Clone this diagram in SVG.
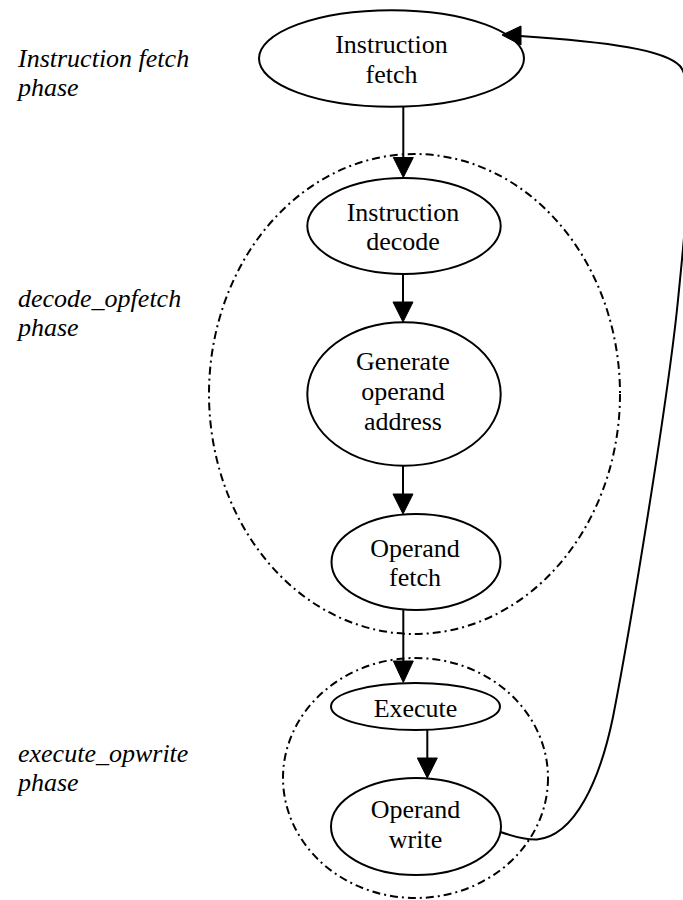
<svg xmlns="http://www.w3.org/2000/svg" width="683" height="900" viewBox="0 0 683 900">
  <style>
    .bg { fill: #ffffff; }
    .cluster { fill: none; stroke: #000; stroke-width: 2; stroke-dasharray: 8 4 2 4; }
    .node ellipse { fill: #ffffff; stroke: #000; stroke-width: 2; }
    .node text { font-family: "Liberation Serif", "Times New Roman", serif; font-size: 26px; text-anchor: middle; fill: #000; }
    .phase { font-family: "Liberation Serif", "Times New Roman", serif; font-size: 26px; font-style: italic; fill: #000; }
    .edge { fill: none; stroke: #000; stroke-width: 2; }
    .head { fill: #000; stroke: #000; stroke-width: 1; }
  </style>
  <rect class="bg" x="0" y="0" width="683" height="900"/>

  <!-- phase captions -->
  <g id="labels">
    <text class="phase" x="18" y="67">Instruction fetch</text>
    <text class="phase" x="18" y="96">phase</text>
    <text class="phase" x="18" y="307">decode_opfetch</text>
    <text class="phase" x="18" y="336">phase</text>
    <text class="phase" x="18" y="762">execute_opwrite</text>
    <text class="phase" x="18" y="791">phase</text>
  </g>

  <!-- phase clusters -->
  <g id="cluster_decode_opfetch">
    <ellipse class="cluster" cx="414.5" cy="394" rx="205.5" ry="240"/>
  </g>
  <g id="cluster_execute_opwrite">
    <ellipse class="cluster" cx="415.5" cy="778" rx="132.5" ry="120"/>
  </g>

  <!-- nodes -->
  <g id="fetch" class="node">
    <ellipse cx="391.5" cy="58.5" rx="132.5" ry="48.3"/>
    <text x="391.5" y="53">Instruction</text>
    <text x="391.5" y="83">fetch</text>
  </g>
  <g id="decode" class="node">
    <ellipse cx="404" cy="226" rx="96.7" ry="48"/>
    <text x="403" y="221">Instruction</text>
    <text x="403" y="250">decode</text>
  </g>
  <g id="genaddr" class="node">
    <ellipse cx="404" cy="394" rx="96.7" ry="71.7"/>
    <text x="403" y="370">Generate</text>
    <text x="403" y="400">operand</text>
    <text x="403" y="430">address</text>
  </g>
  <g id="opfetch" class="node">
    <ellipse cx="416" cy="562" rx="84.5" ry="48"/>
    <text x="415" y="557">Operand</text>
    <text x="415" y="586">fetch</text>
  </g>
  <g id="execute" class="node">
    <ellipse cx="415.5" cy="706.5" rx="84.5" ry="23.5"/>
    <text x="415.5" y="717">Execute</text>
  </g>
  <g id="opwrite" class="node">
    <ellipse cx="416" cy="826.5" rx="85" ry="48.5"/>
    <text x="415.5" y="818">Operand</text>
    <text x="415.5" y="848">write</text>
  </g>

  <!-- connectors -->
  <g id="edges">
    <line class="edge" x1="403.3" y1="107" x2="403.3" y2="158"/>
    <polygon class="head" points="393.3,157.5 413.3,157.5 403.3,177.5"/>

    <line class="edge" x1="403" y1="274" x2="403" y2="303"/>
    <polygon class="head" points="393,302 413,302 403,322"/>

    <line class="edge" x1="403" y1="466" x2="403" y2="495"/>
    <polygon class="head" points="393,494 413,494 403,514"/>

    <line class="edge" x1="403.3" y1="610" x2="403.3" y2="662"/>
    <polygon class="head" points="393.3,661 413.3,661 403.3,682.5"/>

    <line class="edge" x1="427.3" y1="730" x2="427.3" y2="759"/>
    <polygon class="head" points="417.3,758 437.3,758 427.3,778"/>

    <path class="edge" d="M500.5,832 C512,836 524,840 537,839.5 C575,836 600,780 613,717 C630,630 668,400 678,300 C686,220 700,90 680,66 C665,50 610,42 520,36"/>
    <polygon class="head" points="521,26 521,45 502,35"/>
  </g>
</svg>
